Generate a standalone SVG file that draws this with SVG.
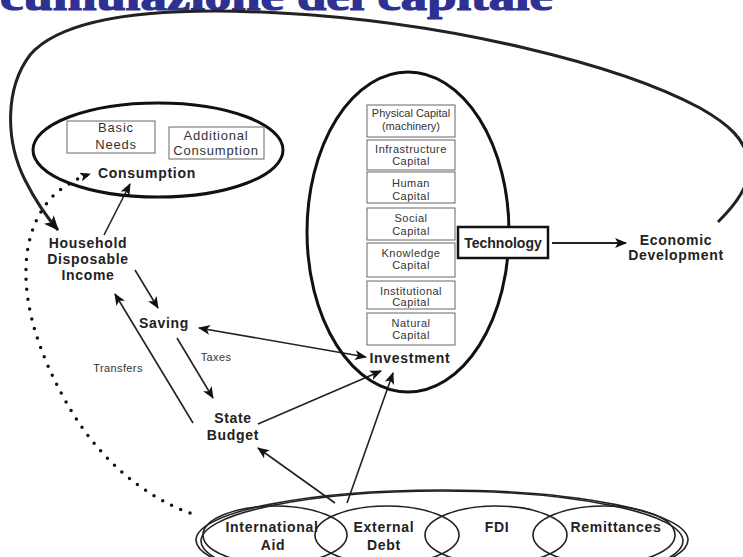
<svg xmlns="http://www.w3.org/2000/svg" width="743" height="557" viewBox="0 0 743 557">
<defs>
<style>
.lbl{font-family:"Liberation Sans",Arial,sans-serif;font-weight:bold;font-size:14px;fill:#222;text-anchor:middle;letter-spacing:0.7px}
.sm{font-family:"Liberation Sans",Arial,sans-serif;font-size:13px;fill:#333;text-anchor:middle;letter-spacing:0.8px}
.cap{font-family:"Liberation Sans",Arial,sans-serif;font-size:11px;fill:#333;text-anchor:middle;letter-spacing:0.5px}
.note{font-family:"Liberation Sans",Arial,sans-serif;font-size:11px;fill:#333;text-anchor:middle;letter-spacing:0.4px}
.box{fill:#fff;stroke:#666;stroke-width:1}
.ell{fill:none;stroke:#111;stroke-width:3}
.bell{fill:none;stroke:#222;stroke-width:1.6}
.con{fill:none;stroke:#222;stroke-width:1.6}
</style>
<marker id="ah" viewBox="0 0 12 10" refX="11" refY="5" markerWidth="12" markerHeight="10" markerUnits="userSpaceOnUse" orient="auto-start-reverse"><path d="M0,0 L12,5 L0,10 L3,5 z" fill="#111"/></marker>
<marker id="ahb" viewBox="0 0 14 12" refX="13" refY="6" markerWidth="15" markerHeight="13" markerUnits="userSpaceOnUse" orient="auto"><path d="M0,0 L14,6 L0,12 L3.5,6 z" fill="#111"/></marker>
<marker id="ahs" viewBox="0 0 12 10" refX="11" refY="5" markerWidth="11" markerHeight="9" markerUnits="userSpaceOnUse" orient="auto"><path d="M0,0 L12,5 L0,10 L3,5 z" fill="#111"/></marker>
</defs>
<rect width="743" height="557" fill="#fff"/>
<text x="0" y="10" textLength="553" lengthAdjust="spacingAndGlyphs" font-family="Liberation Serif, serif" font-weight="bold" font-size="40" fill="#2e3192" stroke="#2e3192" stroke-width="1.2">cumulazione del capitale</text>

<g id="connectors">
<path class="con" style="stroke-width:3" marker-end="url(#ahb)" d="M718,222 C735,205 752,185 748,160 C745,140 730,125 700,108 C620,65 450,22 280,13 C150,6 62,18 30,55 C5,88 5,140 25,180 C35,200 45,215 58,230"/>
<path fill="none" stroke="#111" stroke-width="3.5" stroke-linecap="round" stroke-dasharray="0 10" marker-end="url(#ahs)" d="M190,513 C140,495 95,455 65,400 C40,355 25,310 26,270 C26,235 40,205 60,190 C70,183 78,178 90,174"/>
<line class="con" x1="104" y1="235" x2="130" y2="184" marker-end="url(#ah)"/>
<line class="con" x1="135" y1="270" x2="158" y2="308" marker-end="url(#ah)"/>
<line class="con" x1="199" y1="328" x2="366" y2="357" marker-start="url(#ah)" marker-end="url(#ah)"/>
<line class="con" x1="177" y1="338" x2="213" y2="398" marker-end="url(#ah)"/>
<line class="con" x1="193" y1="423" x2="115" y2="294" marker-end="url(#ah)"/>
<line class="con" x1="258" y1="424" x2="381" y2="371" marker-end="url(#ah)"/>
<line class="con" x1="335" y1="503" x2="258" y2="448" marker-end="url(#ah)"/>
<line class="con" x1="347" y1="503" x2="393" y2="373" marker-end="url(#ah)"/>
<line class="con" style="stroke-width:2.2" x1="552" y1="243" x2="626" y2="243" marker-end="url(#ah)"/>
<text class="note" x="216" y="361">Taxes</text>
<text class="note" x="118" y="372">Transfers</text>
</g>

<g id="consumption">
<ellipse class="ell" cx="158" cy="150" rx="125" ry="47"/>
<rect class="box" x="67" y="121" width="88" height="32"/>
<text class="sm" x="116" y="132">Basic</text>
<text class="sm" x="116" y="149">Needs</text>
<rect class="box" x="169" y="127" width="95" height="32"/>
<text class="sm" x="216" y="140">Additional</text>
<text class="sm" x="216" y="155">Consumption</text>
<text class="lbl" x="147" y="178">Consumption</text>
</g>

<g id="household">
<text class="lbl" x="88" y="248">Household</text>
<text class="lbl" x="88" y="264">Disposable</text>
<text class="lbl" x="88" y="280">Income</text>
</g>

<g id="saving"><text class="lbl" x="164" y="328">Saving</text></g>

<g id="state-budget">
<text class="lbl" x="233" y="423">State</text>
<text class="lbl" x="233" y="440">Budget</text>
</g>

<g id="investment">
<ellipse class="ell" cx="408" cy="232" rx="101" ry="160"/>
<rect class="box" x="367" y="105" width="88" height="32"/>
<text class="cap" x="411" y="117" style="letter-spacing:0">Physical Capital</text>
<text class="cap" x="411" y="130" style="letter-spacing:0">(machinery)</text>
<rect class="box" x="367" y="140" width="88" height="30"/>
<text class="cap" x="411" y="153">Infrastructure</text>
<text class="cap" x="411" y="165">Capital</text>
<rect class="box" x="367" y="172" width="88" height="31"/>
<text class="cap" x="411" y="187">Human</text>
<text class="cap" x="411" y="200">Capital</text>
<rect class="box" x="367" y="208" width="88" height="32"/>
<text class="cap" x="411" y="222">Social</text>
<text class="cap" x="411" y="235">Capital</text>
<rect class="box" x="367" y="243" width="88" height="34"/>
<text class="cap" x="411" y="257">Knowledge</text>
<text class="cap" x="411" y="269">Capital</text>
<rect class="box" x="367" y="281" width="88" height="28"/>
<text class="cap" x="411" y="295">Institutional</text>
<text class="cap" x="411" y="306">Capital</text>
<rect class="box" x="367" y="313" width="88" height="32"/>
<text class="cap" x="411" y="327">Natural</text>
<text class="cap" x="411" y="339">Capital</text>
<text class="lbl" x="410" y="363">Investment</text>
</g>

<g id="technology">
<rect x="458" y="227" width="90" height="31" fill="#fff" stroke="#111" stroke-width="2.5"/>
<text class="lbl" x="503" y="248" style="letter-spacing:0">Technology</text>
</g>

<g id="economic-development">
<text class="lbl" x="676" y="245">Economic</text>
<text class="lbl" x="676" y="260">Development</text>
</g>

<g id="external-flows">
<ellipse class="bell" cx="442" cy="540" rx="246" ry="50"/>
<ellipse class="bell" cx="442" cy="541" rx="241" ry="50"/>
<ellipse class="bell" cx="275" cy="535" rx="72" ry="29"/>
<ellipse class="bell" cx="387" cy="535" rx="72" ry="29"/>
<ellipse class="bell" cx="496" cy="535" rx="71" ry="29"/>
<ellipse class="bell" cx="604" cy="535" rx="71" ry="29"/>
</g>
<g id="international-aid"><text class="lbl" x="272" y="532">International</text><text class="lbl" x="273" y="550">Aid</text></g>
<g id="external-debt"><text class="lbl" x="384" y="532">External</text><text class="lbl" x="384" y="550">Debt</text></g>
<g id="fdi"><text class="lbl" x="497" y="532">FDI</text></g>
<g id="remittances"><text class="lbl" x="616" y="532">Remittances</text></g>
</svg>
